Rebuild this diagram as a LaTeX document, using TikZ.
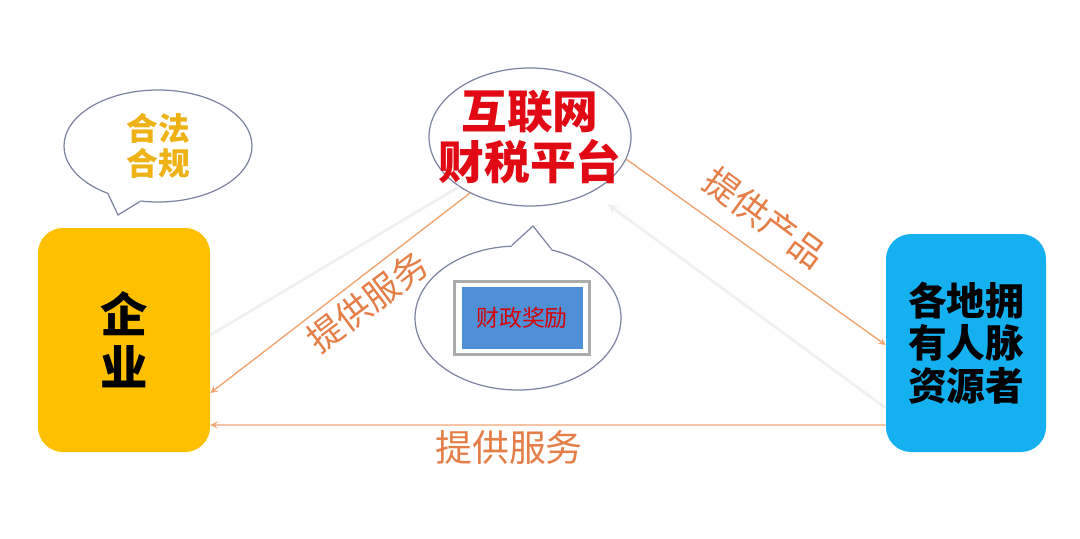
\documentclass[tikz,border=0pt]{standalone}
\usepackage{fontspec}
\usepackage{xcolor}
\usepackage{tikz}
\usetikzlibrary{shapes.geometric, arrows, positioning}
\newfontfamily\cjk{Noto Sans CJK SC}
\definecolor{bizyellow}{RGB}{255,192,0}
\definecolor{resblue}{RGB}{20,176,240}
\definecolor{rewardblue}{RGB}{78,143,214}
\definecolor{lineorange}{RGB}{240,165,115}
\definecolor{textorange}{RGB}{228,125,70}
\definecolor{bubblegray}{RGB}{125,132,160}
\definecolor{platred}{RGB}{225,10,20}
\definecolor{legalgold}{RGB}{238,178,20}

\begin{document}
\begin{tikzpicture}[
    box/.style={rectangle, rounded corners=0.5cm, inner sep=0pt, align=center, font=\cjk\bfseries},
    bubble/.style={ellipse, draw=bubblegray, fill=white, line width=0.7pt, inner sep=0pt},
    arrow/.style={->, >=stealth, lineorange, line width=0.8pt},
    faint/.style={gray!12, line width=1.6pt},
    label/.style={font=\cjk, text=textorange}
]
    \useasboundingbox (0,0) rectangle (21.6,10.76);

    % Enterprise
    \node[box, fill=bizyellow, minimum width=3.44cm, minimum height=4.48cm,
          font=\cjk\bfseries\fontsize{27}{30}\selectfont] (enterprise) at (2.48,3.96) {企\\业};

    % Resource holders
    \node[box, fill=resblue, minimum width=3.2cm, minimum height=4.36cm,
          font=\cjk\bfseries\fontsize{22}{24}\selectfont] (res) at (19.32,3.9) {各地拥\\有人脉\\资源者};

    % Platform
    \node[bubble, minimum width=4.04cm, minimum height=2.76cm] (platform) at (10.6,8.02) {};
    \node[align=center, text=platred, font=\cjk\bfseries\fontsize{26}{28.5}\selectfont] (platname) at (platform) {互联网\\财税平台};

    % Legal callout
    \node[bubble, minimum width=3.76cm, minimum height=2.24cm] (legal) at (3.16,7.84) {};
    \coordinate (legaltip) at (2.36,6.46);
    \fill[white] (legal.center) -- (legal.224) -- (legaltip) -- (legal.252) -- cycle;
    \draw[bubblegray, line width=0.7pt] (legal.224) -- (legaltip) -- (legal.252);
    \node[align=center, text=legalgold, font=\cjk\bfseries\fontsize{18}{20}\selectfont] (legaltext) at (legal) {合法\\合规};

    % Reward callout
    \node[bubble, minimum width=4.12cm, minimum height=2.88cm] (rewardbubble) at (10.36,4.4) {};
    \coordinate (rewardtip) at (10.66,6.24);
    \fill[white] (rewardbubble.center) -- (rewardbubble.95) -- (rewardtip) -- (rewardbubble.64) -- cycle;
    \draw[bubblegray, line width=0.7pt] (rewardbubble.95) -- (rewardtip) -- (rewardbubble.64);
    \node[rectangle, draw=gray!65, fill=white, line width=2.2pt, minimum width=2.7cm, minimum height=1.46cm] (rewardframe) at (10.44,4.4) {};
    \node[rectangle, fill=rewardblue, minimum width=2.42cm, minimum height=1.24cm, text=red!85!black,
          font=\cjk\fontsize{13}{15}\selectfont] (reward) at (rewardframe) {财政奖励};

    % Faint lines
    \draw[faint] ([yshift=0.1cm]enterprise.east) -- (platform.215);
    \draw[faint, ->, >=stealth, shorten >=0.4cm] ([yshift=-1.3cm]res.west) -- (platform.-42);

    % Arrows
    \draw[arrow] (platform.223) -- ([yshift=-1.06cm]enterprise.east);
    \draw[arrow] (platform.-13) -- ([yshift=-0.04cm]res.west);
    \draw[arrow] ([yshift=-1.64cm]res.west) -- ([yshift=-1.7cm]enterprise.east);

    % Arrow labels
    \node[label, rotate=37, font=\cjk\fontsize{20}{22}\selectfont] (servleft) at (7.35,4.72) {提供服务};
    \node[label, rotate=-36.5, font=\cjk\fontsize{20}{22}\selectfont] (product) at (15.3,6.4) {提供产品};
    \node[label, font=\cjk\fontsize{21}{23}\selectfont] (servbottom) at (10.18,1.82) {提供服务};

\end{tikzpicture}
\end{document}
